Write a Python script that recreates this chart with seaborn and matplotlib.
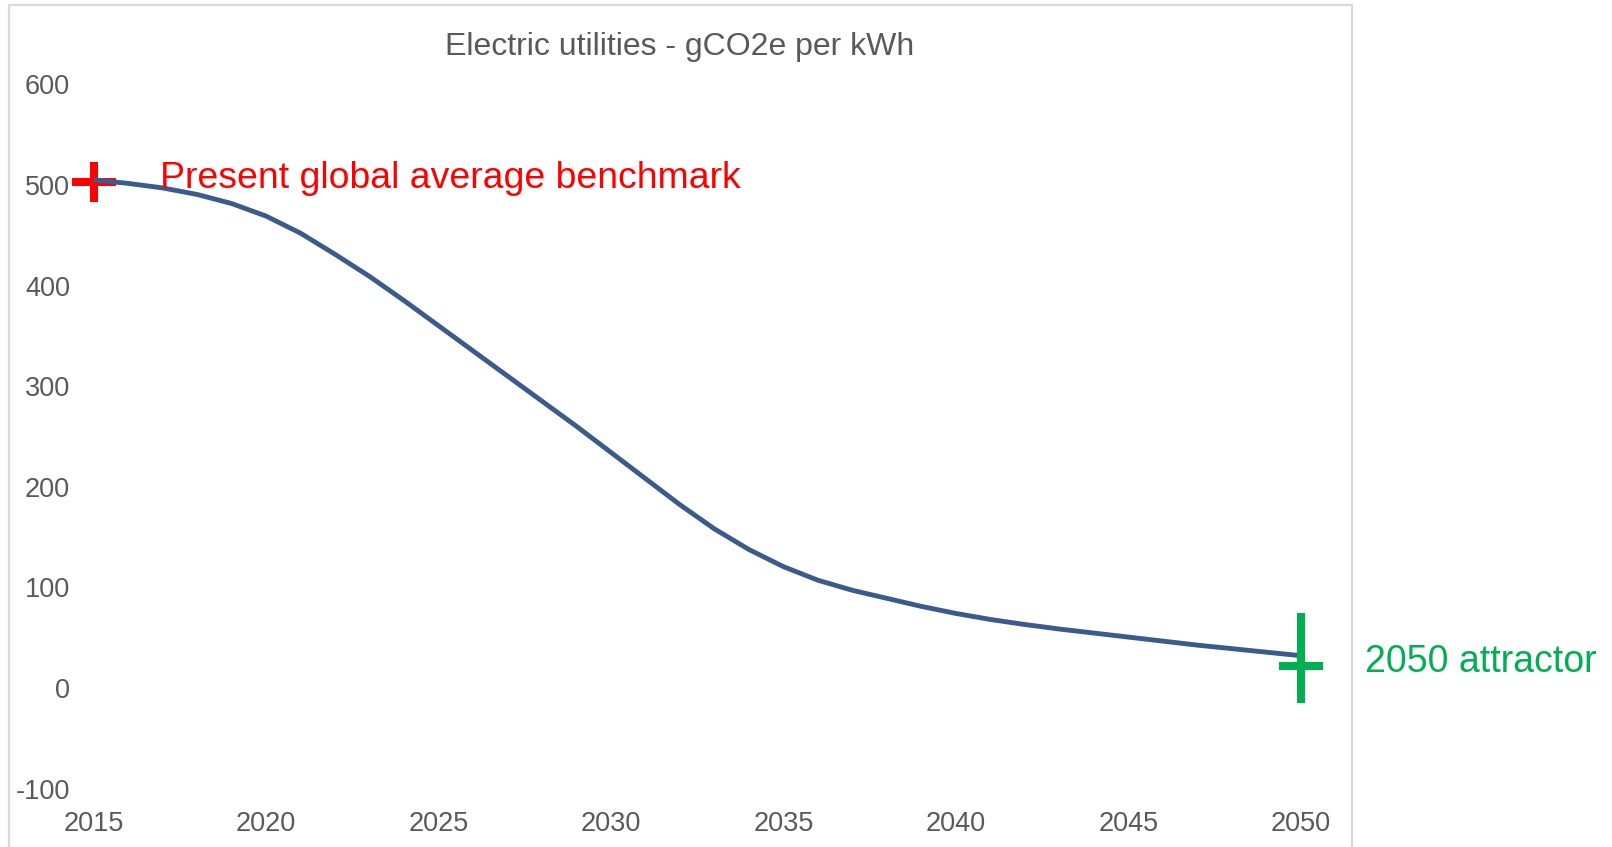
import pandas as pd
import matplotlib.pyplot as plt
import matplotlib.patches as mpatches
import seaborn as sns

# Emission pathway (gCO2e per kWh)
years = list(range(2015, 2051))
intensity = [505, 501.5, 497, 490.5, 481.5, 469, 452, 431, 409, 385,
             360, 335, 310, 285, 260, 234, 208, 182, 158, 137.5,
             120.5, 107, 97, 89, 81, 74, 68, 63, 58.5, 54.5,
             50.5, 46.5, 42.5, 39, 35.5, 32]

benchmark_year = [2015]
benchmark_value = [503]
attractor_year = [2050]
attractor_value = [22]
attractor_bar_mid = [30]

x_ticks = [2015, 2020, 2025, 2030, 2035, 2040, 2045, 2050]
y_ticks = [-100, 0, 100, 200, 300, 400, 500, 600]

title = "Electric utilities - gCO2e per kWh"
benchmark_label = "Present global average benchmark"
attractor_label = "2050 attractor"

df = pd.DataFrame({"year": years, "intensity": intensity})

sns.set_style("white")
plt.rcParams['font.family'] = ['Liberation Sans', 'DejaVu Sans']
plt.rcParams['axes.unicode_minus'] = False

W, H = 1612, 847
fig = plt.figure(figsize=(W / 100, H / 100), dpi=100)
ax = fig.add_axes([76 / W, (H - 788.5) / H, (1332 - 76) / W, (788.5 - 84.3) / H])

sns.lineplot(data=df, x="year", y="intensity", ax=ax, color="#3A5B8C",
             linewidth=3.5, solid_capstyle="butt", solid_joinstyle="round")

# crosses
mew = 5.8
ax.plot(benchmark_year, benchmark_value, marker="_", ms=31.7, mew=mew,
        color="#FF0000", linestyle="none", clip_on=False, zorder=1)
ax.plot(benchmark_year, benchmark_value, marker="|", ms=29.5, mew=mew,
        color="#FF0000", linestyle="none", clip_on=False, zorder=1)
ax.plot(attractor_year, attractor_value, marker="_", ms=31.7, mew=mew,
        color="#00B050", linestyle="none", clip_on=False, zorder=3)
ax.plot(attractor_year, attractor_bar_mid, marker="|", ms=64.8, mew=mew,
        color="#00B050", linestyle="none", clip_on=False, zorder=3)

ax.annotate(benchmark_label, (benchmark_year[0], benchmark_value[0]),
            xytext=(47.5, -4.3), textcoords="offset points", va="baseline",
            ha="left", fontsize=26.9, color="#FF0000", annotation_clip=False)
ax.annotate(attractor_label, (attractor_year[0], attractor_value[0]),
            xytext=(46, -4.6), textcoords="offset points", va="baseline",
            ha="left", fontsize=27, color="#00B050", annotation_clip=False)

ax.set_xlim(2014.49, 2050.9)
ax.set_ylim(-100, 600)
ax.set_xticks(x_ticks)
ax.set_yticks(y_ticks)
ax.tick_params(axis="both", length=0, labelsize=19.5, labelcolor="#595959")
ax.tick_params(axis="x", pad=16.3)
ax.tick_params(axis="y", pad=4.3)
ax.set_xlabel("")
ax.set_ylabel("")
ax.grid(False)
sns.despine(ax=ax, left=True, bottom=True)

fig.text(680 / W, 1 - 47 / H, title, ha="center", va="center",
         fontsize=23, color="#595959")

# chart area border
border = mpatches.Rectangle((9 / W, -0.05), (1352 - 9) / W, 1.05 - 5 / H,
                            transform=fig.transFigure, fill=False,
                            edgecolor="#D9D9D9", linewidth=1.6)
fig.patches.append(border)

fig.savefig("out.png", dpi=100)
